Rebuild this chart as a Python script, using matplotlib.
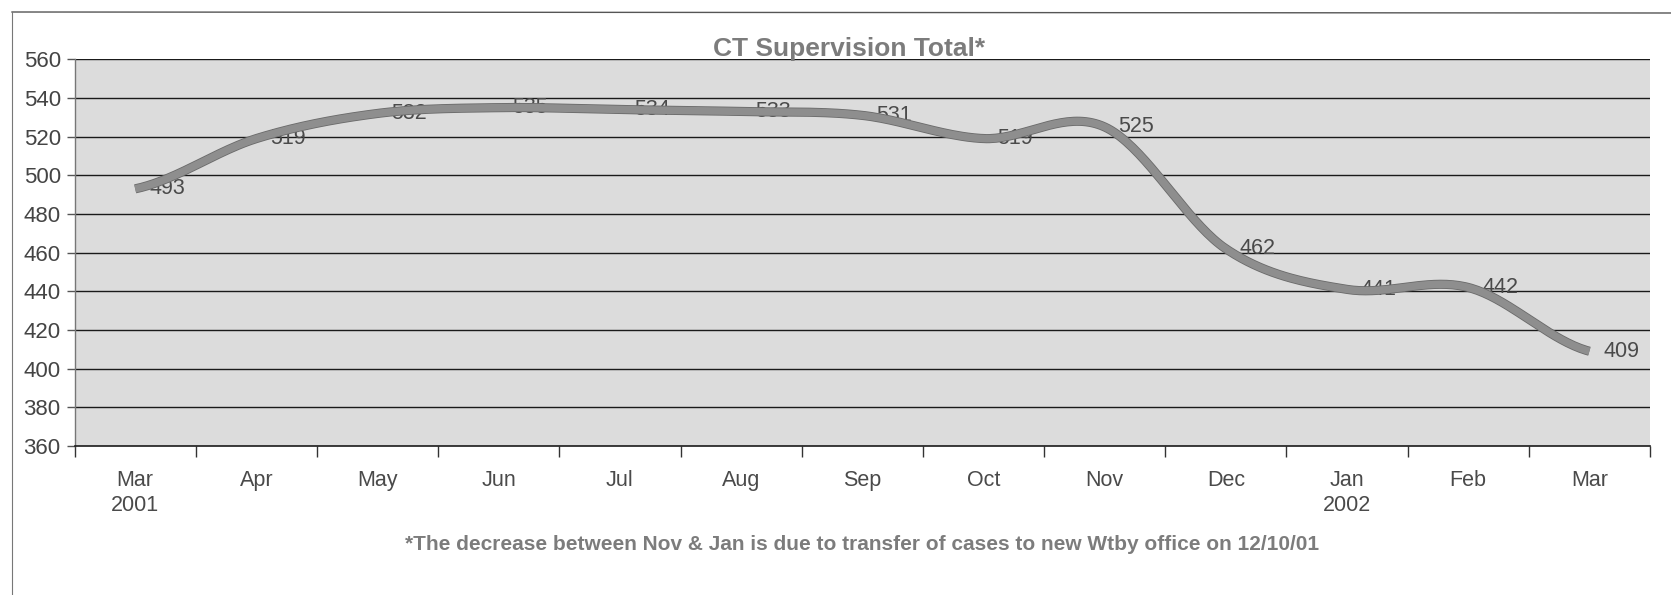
import numpy as np
import matplotlib
matplotlib.use("Agg")
import matplotlib.pyplot as plt
import matplotlib.patheffects as pe
from matplotlib.lines import Line2D

plt.rcParams['font.family'] = ['Liberation Sans', 'DejaVu Sans']

# ---- data ----
months = ["Mar\n2001", "Apr", "May", "Jun", "Jul", "Aug", "Sep", "Oct", "Nov",
          "Dec", "Jan\n2002", "Feb", "Mar"]
totals = [493, 519, 532, 535, 534, 533, 531, 519, 525, 462, 441, 442, 409]
title = "CT Supervision Total*"
footnote = "*The decrease between Nov & Jan is due to transfer of cases to new Wtby office on 12/10/01"
y_ticks = list(range(360, 561, 20))

W, H = 1671, 595
fig = plt.figure(figsize=(W / 100, H / 100), dpi=100)
fig.patch.set_facecolor("white")

left, right = 74.6 / W, 1650 / W
bottom, top = 1 - 446 / H, 1 - 59.3 / H
ax = fig.add_axes([left, bottom, right - left, top - bottom])
ax.set_facecolor("#dcdcdc")

x = np.arange(len(totals), dtype=float)
y = np.array(totals, dtype=float)

# Catmull-Rom style smoothing (like Excel smoothed line)
n = len(x)
m = np.zeros(n)
for i in range(n):
    ip = min(i + 1, n - 1)
    im = max(i - 1, 0)
    m[i] = (y[ip] - y[im]) / 2.0
xs, ys = [], []
for i in range(n - 1):
    t = np.linspace(0, 1, 40)
    h00 = 2 * t**3 - 3 * t**2 + 1
    h10 = t**3 - 2 * t**2 + t
    h01 = -2 * t**3 + 3 * t**2
    h11 = t**3 - t**2
    xs.append(x[i] + t)
    ys.append(h00 * y[i] + h10 * m[i] + h01 * y[i + 1] + h11 * m[i + 1])
xs = np.concatenate(xs)
ys = np.concatenate(ys)

ax.set_xlim(-0.5, n - 0.5)
ax.set_ylim(360, 560)

for v in y_ticks[1:]:
    ax.axhline(v, color="#1a1a1a", lw=1.0, zorder=1)

# data labels (under the line)
for xi, yi in zip(x, y):
    ax.annotate(str(int(yi)), (xi, yi), xytext=(10, 0), textcoords="offset points",
                ha="left", va="center", fontsize=15.5, color="#4a4a4a", zorder=2)

ax.plot(xs, ys, color="#8e8e8e", lw=5.4, solid_capstyle="butt", zorder=3,
        path_effects=[pe.Stroke(linewidth=6.6, foreground="#6a6a6a"), pe.Normal()])

# axes styling
for s in ["top", "right"]:
    ax.spines[s].set_visible(False)
ax.spines["left"].set_color("#777777")
ax.spines["left"].set_linewidth(1.0)
ax.spines["bottom"].set_color("#1a1a1a")
ax.spines["bottom"].set_linewidth(1.2)

ax.set_yticks(y_ticks)
ax.set_yticklabels([str(v) for v in y_ticks])
ax.tick_params(axis="y", length=6, width=1, color="#555555", labelsize=16,
               labelcolor="#444444", pad=4)

ax.set_xticks(np.arange(-0.5, n, 1.0))
ax.set_xticklabels([])
ax.tick_params(axis="x", which="major", length=8, width=1, color="#333333")
ax.set_xticks(x, minor=True)
ax.set_xticklabels(months, minor=True)
ax.tick_params(axis="x", which="minor", length=0, labelsize=15.5,
               labelcolor="#4a4a4a", pad=17)
for lbl in ax.get_xticklabels(minor=True):
    lbl.set_linespacing(1.25)

# title and footnote
fig.text((left + right) / 2 - 0.008, 1 - 49 / H, title, ha="center", va="center",
         fontsize=19, fontweight="bold", color="#7c7c7c")
fig.text((left + right) / 2, 1 - 544 / H, footnote, ha="center", va="center",
         fontsize=15, fontweight="bold", color="#7c7c7c")

# scanned frame border (top and left)
fig.add_artist(Line2D([12 / W, 1.0], [1 - 12 / H, 1 - 13 / H], color="#555555", lw=1.0))
fig.add_artist(Line2D([12 / W, 12 / W], [1 - 12 / H, 0.0], color="#777777", lw=0.8))

fig.savefig("out.png", dpi=100)
